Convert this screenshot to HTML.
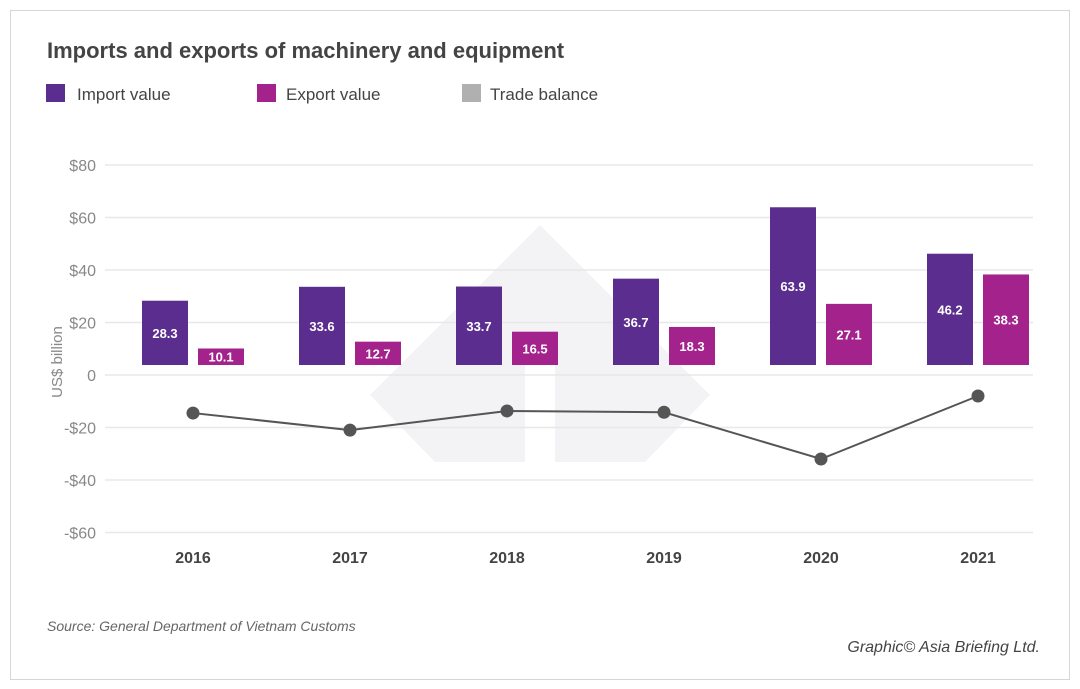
<!DOCTYPE html>
<html><head><meta charset="utf-8"><style>
body{margin:0;background:#fff;}
svg{display:block;font-family:"Liberation Sans",sans-serif;}
</style></head><body>
<svg width="1080" height="689" viewBox="0 0 1080 689">
<rect x="10.5" y="10.5" width="1059" height="669" fill="#fff" stroke="#d6d6d6"/>
<g fill="#f3f3f5">
<polygon points="540,225 710,395 645,462 555,462 555,350 525,350 525,462 435,462 370,395"/>
</g>
<text x="47" y="58" font-size="22" font-weight="bold" fill="#444">Imports and exports of machinery and equipment</text>
<g font-size="17" fill="#444">
<g><rect x="46" y="84" width="19" height="18" fill="#5b2d8e"/><text x="77" y="100">Import value</text></g>
<g><rect x="257" y="84" width="19" height="18" fill="#a4228c"/><text x="286" y="100">Export value</text></g>
<g><rect x="462" y="84" width="19" height="18" fill="#b0b0b0"/><text x="490" y="100">Trade balance</text></g>
</g>
<g id="grid"></g><g id="bars"></g><g id="line"></g>
<text transform="translate(62,362) rotate(-90)" text-anchor="middle" font-size="15" fill="#888">US$ billion</text>
<text x="47" y="631" font-size="14" font-style="italic" fill="#666">Source: General Department of Vietnam Customs</text>
<text x="1040" y="652" text-anchor="end" font-size="16" font-style="italic" fill="#444">Graphic© Asia Briefing Ltd.</text>
</svg>
<script>
const years=["2016","2017","2018","2019","2020","2021"];
const imports=[28.3,33.6,33.7,36.7,63.9,46.2];
const exportsV=[10.1,12.7,16.5,18.3,27.1,38.3];
const balance=[-14.5,-21,-13.7,-14.2,-32,-8];
const ticks=[80,60,40,20,0,-20,-40,-60];
const tickLabels=["$80","$60","$40","$20","0","-$20","-$40","-$60"];
const NS="http://www.w3.org/2000/svg";
const y=v=>375-v*2.625;
const xc=i=>193+i*157;
function mk(tag,attrs,parent){const e=document.createElementNS(NS,tag);for(const k in attrs)e.setAttribute(k,attrs[k]);parent.appendChild(e);return e;}
const grid=document.getElementById('grid'),bars=document.getElementById('bars'),line=document.getElementById('line');
ticks.forEach((t,i)=>{
 const l=mk('line',{x1:105,x2:1033,y1:y(t),y2:y(t),stroke:'#e8e8e8','stroke-width':1.5},grid);
 
 
 const tx=mk('text',{x:96,y:y(t)+6,'text-anchor':'end','font-size':16,fill:'#888'},grid);
 tx.textContent=tickLabels[i];
 
 
});
years.forEach((yr,i)=>{
 const c=xc(i);
 const b1=mk('rect',{x:c-51,y:y(imports[i]),width:46,height:365-y(imports[i]),fill:'#5b2d8e'},bars);
 
 
 const t1=mk('text',{x:c-28,y:(y(imports[i])+365)/2+5,'text-anchor':'middle','font-size':13,'font-weight':'bold',fill:'#fff'},bars);
 t1.textContent=imports[i].toFixed(1);
 
 
 const b2=mk('rect',{x:c+5,y:y(exportsV[i]),width:46,height:365-y(exportsV[i]),fill:'#a4228c'},bars);
 
 
 const t2=mk('text',{x:c+28,y:(y(exportsV[i])+365)/2+5,'text-anchor':'middle','font-size':13,'font-weight':'bold',fill:'#fff'},bars);
 t2.textContent=exportsV[i].toFixed(1);
 
 
 const xl=mk('text',{x:c,y:563,'text-anchor':'middle','font-size':16,'font-weight':'bold',fill:'#444'},bars);
 xl.textContent=yr;
 
 
});
const pl=mk('polyline',{points:balance.map((v,i)=>xc(i)+','+y(v)).join(' '),fill:'none',stroke:'#555','stroke-width':2},line);


balance.forEach((v,i)=>{
 const p=mk('circle',{cx:xc(i),cy:y(v),r:6.5,fill:'#555'},line);
 
 
});
</script>
</body></html>
